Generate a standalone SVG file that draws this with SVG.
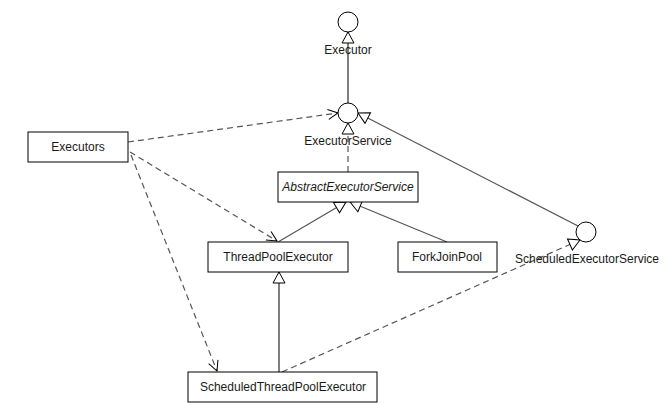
<svg xmlns="http://www.w3.org/2000/svg" width="671" height="405" viewBox="0 0 671 405">
<style>
  text { font-family: "Liberation Sans", "DejaVu Sans", sans-serif; font-size: 12px; fill: #1a1a1a; text-anchor: middle; }
  .box { fill: #fff; stroke: #000; stroke-width: 1; }
  .iface { fill: #fff; stroke: #000; stroke-width: 1; }
  .dash { fill: none; stroke: #555; stroke-width: 1.2; stroke-dasharray: 6 4; }
  .solid { fill: none; stroke: #555; stroke-width: 1.2; }
  .solidk { fill: none; stroke: #000; stroke-width: 1; }
</style>
<defs>
  <marker id="tri" viewBox="0 0 13 14" refX="12" refY="7" markerWidth="13" markerHeight="14" markerUnits="userSpaceOnUse" orient="auto">
    <path d="M1,1 L12,7 L1,13 Z" fill="#fff" stroke="#000" stroke-width="1"/>
  </marker>
  <marker id="open" viewBox="0 0 12 12" refX="11" refY="6" markerWidth="12" markerHeight="12" markerUnits="userSpaceOnUse" orient="auto">
    <path d="M1,1 L11,6 L1,11" fill="none" stroke="#000" stroke-width="1"/>
  </marker>
</defs>
<g id="connectors">
  <line class="solidk" x1="348" y1="103" x2="348" y2="32" marker-end="url(#tri)"/>
  <line class="dash" x1="348" y1="172" x2="348" y2="123" marker-end="url(#tri)"/>
  <line class="solid" x1="578" y1="226" x2="358" y2="113" marker-end="url(#tri)"/>
  <line class="solid" x1="278" y1="242" x2="346" y2="202" marker-end="url(#tri)"/>
  <line class="solid" x1="447" y1="242" x2="350" y2="202" marker-end="url(#tri)"/>
  <line class="solidk" x1="279" y1="372" x2="279" y2="272" marker-end="url(#tri)"/>
  <line class="dash" x1="282" y1="372" x2="580" y2="240" marker-end="url(#tri)"/>
  <line class="dash" x1="128" y1="142" x2="338" y2="113" marker-end="url(#open)"/>
  <line class="dash" x1="130" y1="152" x2="277" y2="241" marker-end="url(#open)"/>
  <line class="dash" x1="131" y1="155" x2="217" y2="371" marker-end="url(#open)"/>
</g>
<g id="Executor">
  <circle class="iface" cx="348" cy="22" r="10"/>
  <text x="348" y="54">Executor</text>
</g>
<g id="ExecutorService">
  <circle class="iface" cx="348" cy="113" r="10"/>
  <text x="348" y="145">ExecutorService</text>
</g>
<g id="ScheduledExecutorService">
  <circle class="iface" cx="586" cy="232" r="10"/>
  <text x="587" y="263">ScheduledExecutorService</text>
</g>
<g id="Executors">
  <rect class="box" x="28" y="132" width="100" height="30"/>
  <text x="78" y="151">Executors</text>
</g>
<g id="AbstractExecutorService">
  <rect class="box" x="278" y="172" width="140" height="30"/>
  <text x="348" y="191" font-style="italic">AbstractExecutorService</text>
</g>
<g id="ThreadPoolExecutor">
  <rect class="box" x="208" y="242" width="140" height="30"/>
  <text x="278" y="261">ThreadPoolExecutor</text>
</g>
<g id="ForkJoinPool">
  <rect class="box" x="398" y="242" width="99" height="30"/>
  <text x="447" y="261">ForkJoinPool</text>
</g>
<g id="ScheduledThreadPoolExecutor">
  <rect class="box" x="188" y="372" width="189" height="30"/>
  <text x="283" y="391">ScheduledThreadPoolExecutor</text>
</g>
</svg>
